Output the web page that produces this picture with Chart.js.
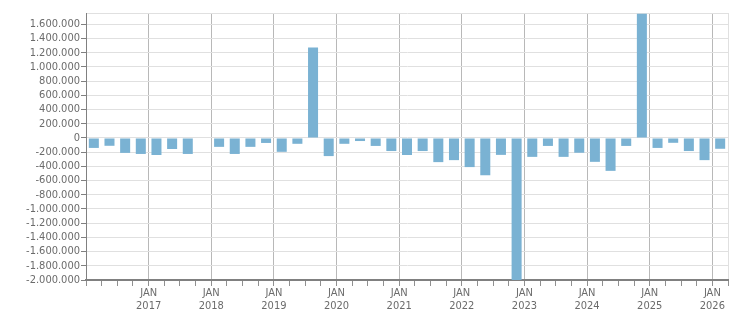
<!DOCTYPE html>
<html>
<head>
<meta charset="utf-8">
<script src="https://cdn.jsdelivr.net/npm/chart.js@4"></script>
<style>
    html, body { margin: 0; padding: 0; background: #fff; }
    #grafico { width: 751px; height: 313px; }
</style>
</head>
<body>
<div id="grafico"><canvas id="myChart"></canvas></div>
<script>
var trimestres = ['2016 Q1', '2016 Q2', '2016 Q3', '2016 Q4',
    '2017 Q1', '2017 Q2', '2017 Q3', '2017 Q4',
    '2018 Q1', '2018 Q2', '2018 Q3', '2018 Q4',
    '2019 Q1', '2019 Q2', '2019 Q3', '2019 Q4',
    '2020 Q1', '2020 Q2', '2020 Q3', '2020 Q4',
    '2021 Q1', '2021 Q2', '2021 Q3', '2021 Q4',
    '2022 Q1', '2022 Q2', '2022 Q3', '2022 Q4',
    '2023 Q1', '2023 Q2', '2023 Q3', '2023 Q4',
    '2024 Q1', '2024 Q2', '2024 Q3', '2024 Q4',
    '2025 Q1', '2025 Q2', '2025 Q3', '2025 Q4',
    '2026 Q1'];

var valores = [-140000, -110000, -210000, -225000,
    -240000, -155000, -225000, null,
    -125000, -225000, -125000, -70000,
    -195000, -82000, 1275000, -255000,
    -82000, -43000, -112000, -184000,
    -240000, -184000, -340000, -312000,
    -410000, -525000, -238000, -2150000,
    -266000, -112000, -266000, -208000,
    -336000, -463000, -112000, 1750000,
    -140000, -68000, -184000, -312000,
    -152000];

var ticks_y = [-2000000, -1800000, -1600000, -1400000, -1200000, -1000000,
    -800000, -600000, -400000, -200000, 0, 200000, 400000, 600000,
    800000, 1000000, 1200000, 1400000, 1600000];
var topo_y = 1760000;

var anos_x = [2017, 2018, 2019, 2020, 2021, 2022, 2023, 2024, 2025, 2026];
var mes_x = 'JAN';
var inicio_x = 2016;
var fim_x = 2026.25;

// posicao de cada barra = ano + meio do trimestre
var dados = [];
for (var i = 0; i < trimestres.length; i++) {
    var ano = parseInt(trimestres[i]);
    var tri = Number(trimestres[i].slice(-1));
    dados.push({ x: ano + (tri - 0.5) / 4, y: valores[i] });
}

function formatar(v) {
    var s = String(Math.abs(v)).replace(/\B(?=(\d{3})+(?!\d))/g, '.');
    return v < 0 ? '-' + s : s;
}

Chart.defaults.font.family = "'DejaVu Sans Condensed', 'Liberation Sans', sans-serif";
Chart.defaults.font.size = 11;
Chart.defaults.color = '#6b6b6b';

const ctx = document.getElementById('myChart');
new Chart(ctx, {
    type: 'bar',
    data: {
        datasets: [{
            data: dados,
            backgroundColor: 'rgb(122,178,211)',
            barPercentage: 0.64,
            categoryPercentage: 1
        }]
    },
    options: {
        responsive: true,
        maintainAspectRatio: false,
        animation: false,
        layout: { padding: { top: 13, right: 23, left: 0, bottom: 0 } },
        plugins: { legend: { display: false }, tooltip: { enabled: false } },
        scales: {
            x: {
                type: 'linear',
                min: inicio_x,
                max: fim_x,
                offset: false,
                afterBuildTicks: function (s) {
                    var t = [];
                    for (var v = inicio_x; v <= fim_x; v += 0.25) t.push({ value: v });
                    s.ticks = t;
                },
                afterFit: function (s) { s.height = 33; },
                border: { color: '#808080', width: 2 },
                grid: {
                    offset: false,
                    tickLength: 6,
                    tickColor: '#909090',
                    color: function (c) {
                        var v = c.tick ? c.tick.value : null;
                        if (v === fim_x) return '#e0e0e0';
                        if (anos_x.indexOf(v) >= 0) return '#b8b8b8';
                        return 'rgba(0,0,0,0)';
                    }
                },
                ticks: {
                    autoSkip: false,
                    maxRotation: 0,
                    padding: 1,
                    font: { lineHeight: 1.15 },
                    callback: function (v) {
                        if (anos_x.indexOf(v) >= 0) return [mes_x, String(v)];
                        return '';
                    }
                }
            },
            y: {
                min: ticks_y[0],
                max: topo_y,
                afterBuildTicks: function (s) {
                    s.ticks = ticks_y.concat([topo_y]).map(function (v) { return { value: v }; });
                },
                afterFit: function (s) { s.width = 86; },
                border: { color: '#808080', width: 1 },
                grid: {
                    color: '#e0e0e0',
                    tickLength: 5,
                    tickColor: function (c) {
                        return c.tick && c.tick.value === topo_y ? 'rgba(0,0,0,0)' : '#808080';
                    }
                },
                ticks: {
                    autoSkip: false,
                    padding: 1,
                    callback: function (v) { return v === topo_y ? '' : formatar(v); }
                }
            }
        }
    }
});
</script>
</body>
</html>
